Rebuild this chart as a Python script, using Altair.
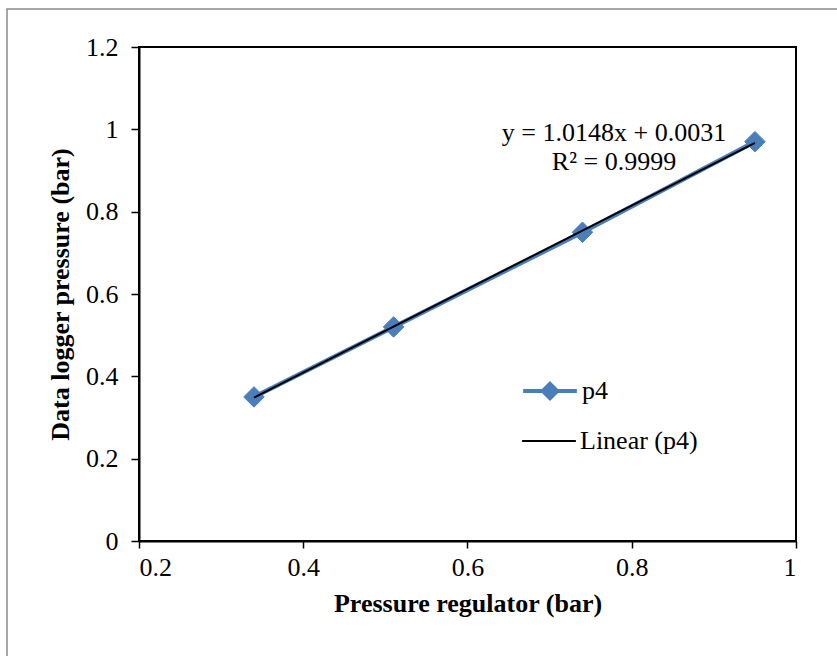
import altair as alt
import pandas as pd

# Data
regulator = [0.34, 0.51, 0.74, 0.95]
logger = [0.35, 0.52, 0.75, 0.97]
series_name = "p4"
trend_name = "Linear (p4)"
equation_lines = ["y = 1.0148x + 0.0031", "R² = 0.9999"]
x_ticks = [0.2, 0.4, 0.6, 0.8, 1.0]
y_ticks = [0, 0.2, 0.4, 0.6, 0.8, 1.0, 1.2]

BLUE = "#4A7EBB"
FONT = "Liberation Serif"

df = pd.DataFrame({"x": regulator, "y": logger, "series": [series_name] * len(regulator)})

x_enc = alt.X("x:Q", scale=alt.Scale(domain=[0.2, 1.0], nice=False, zero=False),
              axis=alt.Axis(values=x_ticks, format="~g", title="Pressure regulator (bar)",
                            labelPadding=6, titlePadding=10))
y_enc = alt.Y("y:Q", scale=alt.Scale(domain=[0, 1.2], nice=False),
              axis=alt.Axis(values=y_ticks, format="~g", title="Data logger pressure (bar)",
                            labelPadding=13, titlePadding=12, tickSize=8))

base = alt.Chart(df)

frame = base.mark_rect(filled=False, stroke="#8c8c8c", strokeWidth=1.5).encode(
    x=alt.value(-132), x2=alt.value(711), y=alt.value(-38), y2=alt.value(623)
).transform_filter("datum.x == 0.34")

line = base.mark_line(color=BLUE, strokeWidth=4.5).encode(x=x_enc, y=y_enc)

points = base.mark_point(shape="diamond", filled=True, size=420, opacity=1,
                         stroke=BLUE, strokeWidth=1).encode(
    x=x_enc, y=y_enc,
    color=alt.Color("series:N", scale=alt.Scale(domain=[series_name], range=[BLUE]),
                    legend=alt.Legend(title=None, orient="none", legendX=385, legendY=318,
                                      symbolType="M-1.12,0L1.12,0M0,-0.3L0.3,0L0,0.3L-0.3,0Z",
                                      symbolSize=2304, symbolStrokeColor=BLUE,
                                      symbolStrokeWidth=4, symbolFillColor=BLUE,
                                      labelFont=FONT, labelFontSize=26, labelColor="black",
                                      labelOffset=6, padding=0, labelLimit=300)),
)

trend = base.transform_regression("x", "y", method="linear").transform_calculate(
    series2=f"'{trend_name}'"
).mark_line(strokeWidth=2).encode(
    x=x_enc, y=y_enc,
    stroke=alt.Stroke("series2:N", scale=alt.Scale(domain=[trend_name], range=["black"]),
                      legend=alt.Legend(title=None, orient="none", legendX=385, legendY=369,
                                        symbolType="M-1.12,0L1.12,0", symbolSize=2304,
                                        symbolStrokeWidth=2,
                                        labelFont=FONT, labelFontSize=26, labelColor="black",
                                        labelOffset=6, padding=0, labelLimit=300)),
)

eq = base.mark_text(text=equation_lines, font=FONT, fontSize=26, align="center",
                    baseline="alphabetic", lineHeight=29, color="black").encode(
    x=alt.value(475), y=alt.value(94)
).transform_filter("datum.x == 0.34")

chart = alt.layer(frame, line, points, trend, eq).resolve_scale(
    color="independent", stroke="independent"
).properties(
    width=657, height=494,
    autosize=alt.AutoSizeParams(type="none"),
    padding={"left": 139, "top": 47, "right": 41, "bottom": 115},
    background="white",
).configure_view(stroke="black", strokeWidth=2).configure_axis(
    grid=False, domainColor="black", domainWidth=2, tickColor="black", tickWidth=1.5,
    tickSize=7, labelFont=FONT, labelFontSize=26, labelColor="black",
    titleFont=FONT, titleFontSize=26, titleFontWeight="bold", titleColor="black",
)

chart.save("out.html", embed_options={"renderer": "svg", "actions": False})
